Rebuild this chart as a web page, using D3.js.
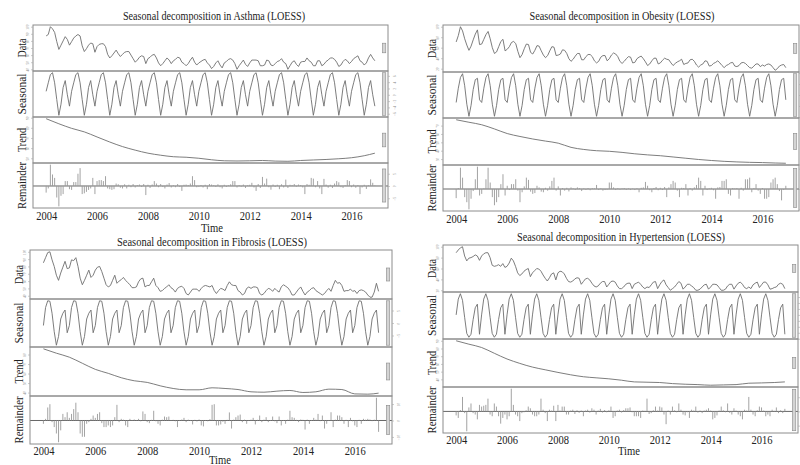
<!DOCTYPE html>
<html>
<head>
<meta charset="utf-8">
<script src="https://cdn.jsdelivr.net/npm/d3@7"></script>
<style>
  body { margin: 0; background: #fff; }
  svg { display: block; }
</style>
</head>
<body>
<div id="chart"></div>
<script>
// monthly series, Jan 2004 .. Dec 2016
var startYear = 2004;
var nMonths = 156;
var yearTicks = [2004, 2006, 2008, 2010, 2012, 2014, 2016];
var rowNames = ["Data", "Seasonal", "Trend", "Remainder"];
// trend read every half year
var trendTimes = [2004, 2004.5, 2005, 2005.5, 2006, 2006.5, 2007, 2007.5, 2008, 2008.5, 2009, 2009.5,
  2010, 2010.5, 2011, 2011.5, 2012, 2012.5, 2013, 2013.5, 2014, 2014.5, 2015, 2015.5, 2016, 2016.5, 2016.917];

// ---- Asthma
var asthmaData = [
  87, 89, 100, 97, 92, 79, 68, 74, 80, 86, 82, 74,
  79, 84, 87, 89, 87, 73, 65, 69, 74, 77, 76, 64,
  72, 75, 76, 76, 72, 61, 56, 59, 63, 67, 62, 58,
  61, 64, 65, 65, 60, 55, 50, 53, 57, 59, 58, 48,
  55, 57, 60, 61, 56, 49, 45, 48, 52, 56, 53, 48,
  52, 54, 57, 56, 50, 48, 45, 48, 53, 57, 50, 46,
  49, 51, 53, 54, 49, 46, 41, 44, 49, 52, 46, 42,
  49, 51, 54, 55, 53, 48, 40, 45, 49, 53, 47, 44,
  49, 53, 53, 53, 52, 45, 45, 46, 53, 52, 46, 45,
  48, 51, 52, 55, 50, 48, 40, 45, 50, 52, 47, 44,
  50, 51, 51, 56, 52, 50, 45, 45, 52, 52, 45, 47,
  51, 53, 56, 56, 54, 50, 44, 46, 51, 54, 52, 48,
  51, 55, 57, 59, 52, 50, 46, 49, 56, 61, 56, 52
];
var asthmaSeasonal = [1.1, 3.8, 6.4, 7.0, 3.8, -1.5, -6.5, -3.0, 2.3, 4.5, 0.0, -3.6];
var asthmaTrend = [89, 84, 79.5, 76, 71, 66, 61.5, 58, 55, 53, 51.5, 51, 50, 48.5, 47.5, 47.3,
  47.5, 47.8, 47.2, 47, 47.8, 48.3, 48.8, 49.5, 50.5, 52.5, 55];
var asthmaRemainder = [
  -2.7, -1, 8.7, 4.7, 3.3, -4.7, -8.3, -4, -3.3, 2, 2, -1.3,
  -1.6, 1.6, 1.6, 5, 7.3, -3.3, -3, -2.4, -1.6, -1, 3.3, -3.3,
  2, 2.4, 2.4, 2, 4, -1, -1.3, -1.6, -1.3, 1, 0.7, -0.7,
  -1, 0.7, -1, 0.5, -0.5, 0.8, -0.6, 0.4, 0.6, -0.4, 0.8, -3.7,
  0.5, -0.8, 0.6, 2, 1, -0.5, 0.8, -0.4, -1, 0.6, 1.2, -0.6,
  0.3, -0.5, 0.8, -0.4, -2, 0.5, 0.6, 0.4, 1, 4, 2.4, -0.5,
  -0.3, 0.4, -0.6, 0.5, -1.3, 0.8, 0.6, 0.3, -0.4, 0.7, -0.5, -1,
  0.5, -0.4, 0.3, 0.7, 2, 2, -0.6, 0.4, -0.3, 0.6, -0.8, 0.3,
  0.5, 1.3, -0.6, -2, 0.8, -0.8, 3.7, 1, 3, -0.5, -1.5, 0.6,
  -0.4, 0.5, -1.3, 0.7, -0.6, 2.6, -0.8, 0.5, 0.4, 0.8, -0.3, 0.6,
  0.4, -0.6, -3.3, 0.8, 0.5, 3.3, 3, -0.5, 2, -1, -3.3, 2.9,
  0.6, -0.7, 0.5, -0.8, 1, 2, 1.5, -0.5, -0.8, 0.3, 2.4, 2,
  -0.5, 0.6, -0.7, 0.4, -3.3, -0.6, 0.5, -1.2, 0.3, 2.7, 1.3, 0.2
];

// ---- Obesity
var obesityData = [
  71, 83, 100, 92, 77, 65, 55, 63, 75, 86, 94, 66,
  67, 76, 85, 91, 77, 60, 49, 52, 62, 72, 76, 54,
  57, 62, 70, 72, 68, 53, 41, 47, 58, 67, 66, 51,
  48, 55, 64, 63, 54, 46, 41, 45, 54, 62, 61, 45,
  46, 48, 56, 55, 49, 39, 34, 38, 44, 49, 49, 37,
  37, 43, 47, 47, 43, 35, 31, 34, 42, 45, 45, 35,
  39, 46, 50, 48, 43, 34, 30, 34, 39, 43, 42, 31,
  32, 39, 42, 44, 39, 33, 26, 29, 35, 40, 40, 29,
  31, 36, 40, 38, 37, 31, 26, 30, 33, 35, 38, 28,
  30, 31, 37, 38, 34, 27, 23, 27, 29, 35, 34, 25,
  26, 30, 32, 35, 31, 26, 22, 26, 28, 31, 32, 25,
  24, 26, 31, 32, 30, 26, 22, 21, 25, 29, 29, 24,
  27, 25, 28, 29, 27, 22, 17, 20, 25, 27, 28, 22
];
var obesitySeasonal = [-3.4, 3.1, 8.0, 9.7, 4.2, -4.2, -9.7, -4.7, 2.5, 7.0, 7.6, -2.2];
var obesityTrend = [77, 74, 71, 66, 60.5, 57, 54, 51.5, 49, 44, 41.5, 40, 39.3, 38, 36.3, 35,
  34, 32.5, 31, 29.5, 28.3, 27.3, 26.6, 26.1, 25.8, 25.3, 25];
var obesityRemainder = [
  -4.5, 0.5, 10.5, 5.6, -4, -6.5, -10, -4.8, -1, 4.8, 11, -3.2,
  -2.4, 0.3, 4.8, 10.5, 3.2, -4, -8, -6.5, -4, 2.4, 7.3, -3.2,
  1.6, -0.5, 2.4, 2.4, 4.8, -0.8, -6.5, -1.6, 1.3, 5.6, 4.5, -1.3,
  -2.4, -2, 1.6, 0.8, -1.3, -1.6, 0.6, -0.8, 1.3, 4, 5.6, -0.8,
  1.3, -3.2, 0.5, -0.8, 0.6, -1.2, 0.8, 0.3, -0.5, 0.8, 0.4, -1,
  0.3, -0.4, 0.5, -0.6, 0.4, 0.3, 2, -0.5, 0.3, -0.8, -0.5, -0.3,
  3.2, 3.2, 0.8, -0.5, 0.4, -0.3, 0.3, 0.5, -0.4, 0.3, -0.5, 0.2,
  -0.5, 0.4, -1.6, 0.6, 0.8, 3.5, 1.6, -0.6, -1.6, 0.5, 1, -0.6,
  0.6, -0.5, 1, -4, 0.8, 2.4, 4, 3.2, -0.8, -4, 0.6, 0.5,
  2.4, -3.2, 0.5, -0.8, 0.8, 2, 5.6, 4, -3.2, 1.6, -0.5, 0.3,
  0.6, -0.6, -4.8, 0.8, 1, 4, 4, 4.8, -2.4, -3.2, 0.5, 0.3,
  0.5, -4.8, 0.6, -0.8, 4.8, 4.8, 5.6, -1.6, 0.5, 2.4, -0.8, -2.4,
  0.5, -4.8, -4.8, -4, 3.2, 4.8, 5.6, 2.4, -1, -5.6, -0.5, 1.6
];

// ---- Fibrosis
var fibrosisData = [
  85, 92, 99, 100, 89, 80, 68, 61, 71, 79, 87, 77,
  78, 89, 88, 92, 80, 64, 55, 61, 68, 75, 65, 68,
  75, 79, 80, 73, 64, 55, 52, 54, 61, 68, 57, 60,
  62, 65, 61, 58, 55, 51, 51, 52, 59, 63, 64, 52,
  54, 54, 59, 64, 54, 51, 46, 47, 50, 52, 55, 51,
  49, 45, 50, 52, 53, 50, 43, 41, 45, 49, 49, 49,
  46, 50, 53, 54, 53, 52, 54, 47, 43, 47, 50, 49,
  47, 54, 59, 55, 54, 54, 47, 45, 41, 43, 50, 52,
  50, 52, 52, 51, 43, 41, 43, 47, 50, 49, 46, 50,
  47, 45, 52, 55, 53, 51, 47, 41, 41, 45, 49, 52,
  46, 41, 45, 47, 50, 51, 47, 45, 43, 41, 43, 47,
  50, 46, 54, 61, 57, 58, 54, 46, 47, 47, 49, 46,
  47, 43, 47, 48, 47, 45, 41, 38, 38, 45, 57, 46
];
var fibrosisSeasonal = [-1.0, 6.2, 8.9, 8.7, 3.9, -3.5, -8.9, -5.4, 1.6, 3.9, 5.2, -3.9];
var fibrosisTrend = [86, 81.4, 77.2, 70.8, 64.4, 60.2, 55.6, 52.4, 50.7, 47.1, 44.3, 42.9, 42.9, 45,
  44.3, 43.2, 40.8, 40.4, 41.5, 42.2, 40.1, 40.8, 43.6, 43.2, 38.6, 38.3, 39.4];
var fibrosisRemainder = [
  -2, 1, 7.9, 9.9, -1, -4, -7.9, -13.2, -6, 4, 2, 5,
  1.6, 4, 6.9, 10.8, 5, -7.9, -9.9, -9.9, -2, -1, 1, 3,
  1.6, 4, 5, -1.6, -4, -4, -3, -4, -3, 2, 9.5, -1,
  1, 0.5, -3, -4, 1, 0.3, 0.6, 0.2, 1, -0.5, 5.5, 4,
  -1, -1.6, 0.4, 5.9, -0.5, -2, -3, 0.5, 2.4, 2, 2.4, 0.3,
  0.4, -0.5, -4, 0.3, 0.6, 1.6, -1, 0.5, -0.3, -2.4, 0.4, -0.6,
  0.6, -3, -3.6, 0.3, -0.5, 0.8, 9.5, 9.9, -3, -3, -2.4, -0.8,
  -2, 0.4, 4.9, -4.9, 0.5, 2, 3, 3.6, -1, 0.5, -2, 0.3,
  0.5, 1.6, -2.4, 0.4, 3, -1, 0.5, 2, -1, 0.3, 2.4, -0.5,
  -1.6, 2.4, -3, 0.3, -2, 0.5, 5.9, 2, 1.6, 0.4, -1, 0.6,
  0.4, -5.5, 0.5, -2, 0.3, 1.6, 0.5, 4, -0.4, 3, -4.9, -2,
  0.3, 5, -4, 0.5, 3, 3, 2, -2, 0.4, -4, 1.6, -0.5,
  -3, -4, 0.4, -2, 1, 0.5, 1, 0.6, -0.4, 0.5, 13.8, -6.9
];

// ---- Hypertension
var hypertensionData = [
  89, 94, 98, 100, 83, 74, 79, 80, 82, 85, 83, 75,
  83, 87, 89, 89, 80, 66, 64, 65, 67, 64, 69, 62,
  64, 70, 79, 74, 64, 52, 47, 50, 55, 58, 60, 45,
  52, 56, 60, 59, 55, 48, 42, 37, 43, 50, 52, 39,
  52, 55, 54, 50, 42, 36, 35, 37, 41, 43, 42, 31,
  36, 41, 42, 39, 33, 28, 26, 28, 33, 36, 36, 26,
  31, 36, 37, 35, 28, 23, 23, 26, 31, 33, 33, 23,
  31, 33, 35, 31, 26, 23, 26, 25, 30, 35, 36, 23,
  30, 36, 39, 30, 25, 20, 23, 26, 31, 36, 33, 22,
  26, 31, 31, 28, 25, 20, 20, 22, 26, 30, 31, 22,
  26, 31, 31, 30, 25, 20, 20, 22, 28, 31, 31, 22,
  28, 33, 35, 31, 25, 23, 26, 23, 30, 33, 35, 25,
  30, 35, 35, 30, 22, 23, 25, 26, 31, 33, 31, 23
];
var hypertensionSeasonal = [0.0, 5.3, 7.1, 4.9, -0.8, -6.2, -7.5, -6.5, -1.6, 2.4, 3.6, -6.5];
var hypertensionTrend = [90, 85.6, 81.3, 73.8, 66.4, 60.7, 55.9, 52.4, 49, 45.9, 43.4, 42, 40.7, 38.9,
  36.7, 36.3, 35.9, 34.5, 33.7, 33.2, 32.4, 32.8, 33.2, 35, 35.4, 35.9, 36.7];
var hypertensionRemainder = [
  -1.4, -2.3, 0.5, 5.1, -0.6, -7, 1.4, 2.8, -0.6, -1.1, -2.8, 2.3,
  1.7, 2, 2.3, 4.5, -1.1, -1.7, 2.8, 1.7, -1.7, -4.3, -2.3, -1.1,
  -2.8, -1.7, 8, 2.3, -1.1, -1.7, -3.4, -0.6, -0.3, 0.4, 1.7, 1.1,
  -1.1, -1.7, -1.7, -1.1, 4.5, 0.6, -0.6, -3.4, 0.6, 0.3, 2, -3.4,
  2.3, 0.3, 1.7, 1.7, -1.1, -1.1, 0.3, 0.6, -0.9, 0.4, -0.5, 0.3,
  -1.7, 0.3, 0.6, -0.4, 1.1, 0.6, -1.1, 0.3, 0.9, -0.4, 0.5, -0.3,
  0.4, 1.7, -2.3, -1.7, 0.3, 0.6, -0.4, 0.5, 1.1, 1.1, 1.4, -0.3,
  -1.7, -1.7, -1.7, -2.3, 0.3, 0.2, 4.5, -0.9, -0.6, 0.4, 1.7, 0.3,
  1.7, 1.4, -1.1, -4.5, 0.3, -1.1, 1.7, 0.4, -0.3, 2.8, 0.6, -1.1,
  -1.4, -0.3, -2.3, 0.6, 0.3, 1.7, -0.4, 0.3, -0.6, 0.3, 0.6, 1.1,
  0.3, -2.8, -2.3, -1.4, 0.3, 1.7, 0.4, -0.3, 2.8, -0.5, -1.1, 1.1,
  0.3, -1.1, -1.7, -2.8, 0.6, 0.3, 5.1, 0.6, -1.1, -1.7, 0.4, 1.7,
  1.4, 0.3, -1.7, -1.1, -1.7, 0.6, 0.2, 1.4, -0.6, 0.4, -0.6, 0.9
];

var width = 800, height = 465;
var serif = "'Liberation Serif', 'Times New Roman', serif";
var lineCol = "#6e6e6e", boxCol = "#8c8c8c";

var svg = d3.select("#chart").append("svg")
  .attr("width", width)
  .attr("height", height);

var months = d3.range(nMonths).map(function(i){ return startYear + i / 12; });

var panels = [
  { title: "Seasonal decomposition in Asthma (LOESS)", data: asthmaData, seasonal: asthmaSeasonal,
    trend: asthmaTrend, remainder: asthmaRemainder,
    left: 33, right: 388, rows: [25, 71, 117, 163, 208],
    titleX: 214, titleY: 20, titleW: 182, yearY: 220, time: [212, 232] },
  { title: "Seasonal decomposition in Obesity (LOESS)", data: obesityData, seasonal: obesitySeasonal,
    trend: obesityTrend, remainder: obesityRemainder,
    left: 443, right: 799, rows: [25, 72, 118, 165, 211],
    titleX: 622, titleY: 20, titleW: 185, yearY: 223, time: null },
  { title: "Seasonal decomposition in Fibrosis (LOESS)", data: fibrosisData, seasonal: fibrosisSeasonal,
    trend: fibrosisTrend, remainder: fibrosisRemainder,
    left: 30, right: 392, rows: [250, 299, 347, 396, 444],
    titleX: 212, titleY: 246, titleW: 190, yearY: 455, time: [220, 464] },
  { title: "Seasonal decomposition in Hypertension (LOESS)", data: hypertensionData, seasonal: hypertensionSeasonal,
    trend: hypertensionTrend, remainder: hypertensionRemainder,
    left: 443, right: 798, rows: [245, 292, 339, 387, 433],
    titleX: 621, titleY: 241, titleW: 208, yearY: 444, time: [629, 455] }
];

panels.forEach(drawPanel);

function drawPanel(p) {
  var g = svg.append("g");
  var t0 = months[0], t1 = months[nMonths - 1], pad = (t1 - t0) * 0.04;
  var x = d3.scaleLinear().domain([t0 - pad, t1 + pad]).range([p.left, p.right]);

  var comps = [
    { values: p.data, times: months, kind: "line", ticks: 5 },
    { values: months.map(function(t, i){ return p.seasonal[i % 12]; }), times: months, kind: "line", ticks: 6 },
    { values: p.trend, times: trendTimes, kind: "curve", ticks: 5 },
    { values: p.remainder, times: months, kind: "bars", ticks: 3 }
  ];
  // range bars all share the smallest component range
  var mx = d3.min(comps, function(c){ var e = d3.extent(c.values); return e[1] - e[0]; });
  var dx = (p.right - p.left) / 64;

  comps.forEach(function(c, k) {
    var top = p.rows[k], bottom = p.rows[k + 1];
    var e = d3.extent(c.values), pd = (e[1] - e[0]) * 0.04;
    var y = d3.scaleLinear().domain([e[0] - pd, e[1] + pd]).range([bottom, top]);
    var pts = c.values.map(function(v, i){ return [c.times[i], v]; });

    if (c.kind === "bars") {
      g.append("line")
        .attr("x1", p.left).attr("x2", p.right)
        .attr("y1", y(0)).attr("y2", y(0))
        .attr("stroke", "#555").attr("stroke-width", 0.9);
      g.selectAll(null).data(pts).enter().append("line")
        .attr("x1", function(d){ return x(d[0]); })
        .attr("x2", function(d){ return x(d[0]); })
        .attr("y1", y(0))
        .attr("y2", function(d){ return y(d[1]); })
        .attr("stroke", "#999").attr("stroke-width", 0.9);
    } else {
      var line = d3.line()
        .x(function(d){ return x(d[0]); })
        .y(function(d){ return y(d[1]); })
        .curve(c.kind === "curve" ? d3.curveMonotoneX : d3.curveLinear);
      g.append("path").datum(pts)
        .attr("d", line)
        .attr("fill", "none")
        .attr("stroke", lineCol)
        .attr("stroke-width", 0.9);
    }

    // range bar
    var mid = (e[0] + e[1]) / 2;
    g.append("rect")
      .attr("x", p.right - dx)
      .attr("width", dx * 0.6)
      .attr("y", y(mid + mx / 2))
      .attr("height", y(mid - mx / 2) - y(mid + mx / 2))
      .attr("fill", "#d4d4d4")
      .attr("stroke", "#8a8a8a")
      .attr("stroke-width", 0.6);

    g.append("rect")
      .attr("x", p.left).attr("y", top)
      .attr("width", p.right - p.left).attr("height", bottom - top)
      .attr("fill", "none").attr("stroke", boxCol).attr("stroke-width", 1);

    // y axis alternates left / right
    var onLeft = (k % 2 === 0);
    var axis = (onLeft ? d3.axisLeft(y) : d3.axisRight(y)).ticks(c.ticks).tickSize(2);
    var ax = g.append("g")
      .attr("transform", "translate(" + (onLeft ? p.left : p.right) + ",0)")
      .call(axis);
    ax.select(".domain").remove();
    ax.selectAll(".tick line").attr("stroke", "#aaa").attr("stroke-width", 0.6);
    if (!onLeft && p.right + 8 > width) {
      // labels fall past the picture edge here
      ax.selectAll(".tick text").remove();
    } else {
      ax.selectAll(".tick text")
        .attr("transform", "rotate(-90)")
        .attr("x", 0)
        .attr("y", onLeft ? -4 : 7.5)
        .attr("dy", 0)
        .attr("text-anchor", "middle")
        .attr("font-size", "3.5px")
        .attr("font-family", serif)
        .attr("fill", "#8a8a8a");
    }

    // component name
    var cy = (top + bottom) / 2;
    var name = rowNames[k];
    g.append("text")
      .attr("transform", "translate(" + (p.left - 7) + "," + cy + ") rotate(-90)")
      .attr("text-anchor", "middle")
      .attr("font-family", serif)
      .attr("font-size", "12px")
      .attr("fill", "#222")
      .attr("textLength", { Data: 19, Seasonal: 41, Trend: 24, Remainder: 47 }[name])
      .attr("lengthAdjust", "spacingAndGlyphs")
      .text(name);
  });

  // time axis
  var bottomY = p.rows[4];
  var xa = g.append("g")
    .attr("transform", "translate(0," + bottomY + ")")
    .call(d3.axisBottom(x).tickValues(yearTicks).tickSize(0).tickFormat(d3.format("d")));
  xa.select(".domain").remove();
  xa.selectAll(".tick text")
    .attr("y", p.yearY - bottomY)
    .attr("dy", 0)
    .attr("font-family", serif)
    .attr("font-size", "13px")
    .attr("fill", "#222")
    .attr("textLength", 21)
    .attr("lengthAdjust", "spacingAndGlyphs");

  if (p.time) {
    g.append("text")
      .attr("x", p.time[0]).attr("y", p.time[1])
      .attr("text-anchor", "middle")
      .attr("font-family", serif)
      .attr("font-size", "11.5px")
      .attr("fill", "#222")
      .attr("textLength", 22)
      .attr("lengthAdjust", "spacingAndGlyphs")
      .text("Time");
  }

  g.append("text")
    .attr("x", p.titleX).attr("y", p.titleY)
    .attr("text-anchor", "middle")
    .attr("font-family", serif)
    .attr("font-size", "13px")
    .attr("fill", "#222")
    .attr("textLength", p.titleW)
    .attr("lengthAdjust", "spacingAndGlyphs")
    .text(p.title);
}
</script>
</body>
</html>
